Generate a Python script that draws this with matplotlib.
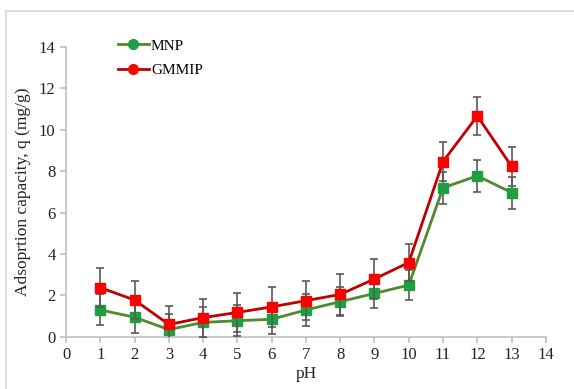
import matplotlib
matplotlib.use("Agg")
import matplotlib.pyplot as plt
from matplotlib.lines import Line2D

ph = [1, 2, 3, 4, 5, 6, 7, 8, 9, 10, 11, 12, 13]
mnp = [1.3, 0.95, 0.35, 0.7, 0.78, 0.85, 1.3, 1.7, 2.1, 2.5, 7.2, 7.78, 6.97]
mnp_err = [0.75, 0.75, 0.75, 0.76, 0.75, 0.7, 0.77, 0.7, 0.7, 0.72, 0.78, 0.77, 0.77]
gmmip = [2.38, 1.78, 0.6, 0.93, 1.18, 1.45, 1.75, 2.05, 2.8, 3.59, 8.47, 10.67, 8.24]
gmmip_err = [0.95, 0.92, 0.9, 0.92, 0.95, 0.95, 0.95, 0.98, 0.98, 0.9, 0.92, 0.92, 0.93]
xticks = list(range(0, 15))
yticks = [0, 2, 4, 6, 8, 10, 12, 14]

plt.rcParams['font.family'] = ['Liberation Serif', 'DejaVu Serif']

fig = plt.figure(figsize=(5.74, 3.89), dpi=100)
ax = fig.add_axes([0.115, 0.134, 0.836, 0.745])

gcol_line = '#4f8a2b'
gcol_mark = '#1fa040'
rcol_line = '#c00000'
rcol_mark = '#ff0000'
ecol = '#595959'

ax.errorbar(ph, mnp, yerr=mnp_err, color=gcol_line, lw=2, marker='s', ms=6.5,
            mfc=gcol_mark, mec=gcol_mark, ecolor=ecol, elinewidth=1.2,
            capsize=3, capthick=1.2, zorder=3, clip_on=True)
ax.errorbar(ph, gmmip, yerr=gmmip_err, color=rcol_line, lw=2, marker='s', ms=6.5,
            mfc=rcol_mark, mec=rcol_mark, ecolor=ecol, elinewidth=1.2,
            capsize=3, capthick=1.2, zorder=4, clip_on=True)

ax.set_xlim(0, 14)
ax.set_ylim(0, 14)
ax.set_xticks(xticks)
ax.set_yticks(yticks)
for s in ['top', 'right']:
    ax.spines[s].set_visible(False)
for s in ['left', 'bottom']:
    ax.spines[s].set_color('#bfbfbf')
    ax.spines[s].set_linewidth(1.2)
ax.tick_params(axis='both', colors='#bfbfbf', labelcolor='#222222',
               labelsize=12, direction='out', length=4, width=1.2)
ax.set_xlabel('pH', fontsize=12.5, color='#222222', labelpad=2)
ax.set_ylabel('Adsoprtion capacity, q (mg/g)', fontsize=12.5, color='#222222', labelpad=6)

handles = [
    Line2D([], [], color=gcol_line, lw=2, marker='o', ms=7, mfc=gcol_mark, mec=gcol_mark),
    Line2D([], [], color=rcol_line, lw=2, marker='o', ms=7, mfc=rcol_mark, mec=rcol_mark),
]
ax.legend(handles, ['MNP', 'GMMIP'], loc='upper left', bbox_to_anchor=(0.08, 1.075),
          frameon=False, fontsize=11, handlelength=2.0, handletextpad=0.15,
          labelspacing=0.7)

# chart-area frame
fig.add_artist(Line2D([0.011, 0.011], [0.0, 0.972], color='#d9d9d9', lw=1.2,
                      transform=fig.transFigure))
fig.add_artist(Line2D([0.011, 1.0], [0.972, 0.972], color='#d9d9d9', lw=1.2,
                      transform=fig.transFigure))

fig.savefig('out.png', dpi=100)
